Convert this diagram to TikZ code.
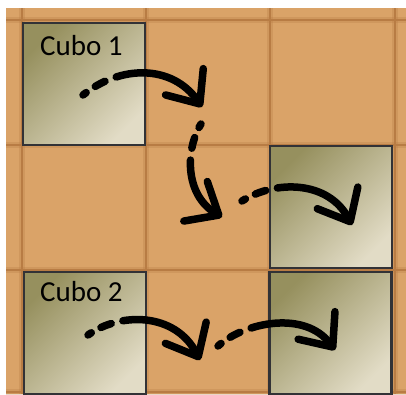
\documentclass[tikz,border=0pt]{standalone}
\usepackage{fontspec}
\setmainfont{Carlito}
\usetikzlibrary{arrows.meta}
\definecolor{tile}{RGB}{218,163,104}
\definecolor{seam}{RGB}{184,124,68}
\definecolor{cubedark}{RGB}{150,144,94}
\definecolor{cubemid}{RGB}{192,184,146}
\definecolor{cubelight}{RGB}{226,220,198}
\definecolor{rim}{RGB}{50,50,54}
\tikzset{
  cube/.style={draw=rim, line width=2.5pt, minimum size=122pt, inner sep=0pt,
    top color=cubedark, middle color=cubemid, bottom color=cubelight, shading angle=45},
  cubetext/.style={anchor=base west, inner sep=0pt, font=\fontsize{29}{32}\selectfont},
  move/.style={line width=7.5pt, line cap=round,
    dash pattern=on 4pt off 11pt on 11pt off 12pt on 600pt,
    -{Straight Barb[length=27pt,width=46pt,round]}}
}
\begin{document}
\begin{tikzpicture}[x=1pt, y=-1pt]
    \useasboundingbox (0,0) rectangle (406,394);
    % Floor and seams
    \fill[tile] (6,8) rectangle (406,394);
    \foreach \x in {22,146,270,395} {
      \draw[seam, line width=6pt, opacity=0.3] (\x,8) -- (\x,394);
      \draw[seam, line width=2pt] (\x,8) -- (\x,394);
    }
    \foreach \y in {20,145,270,392} {
      \draw[seam, line width=6pt, opacity=0.3] (6,\y) -- (406,\y);
      \draw[seam, line width=2pt] (6,\y) -- (406,\y);
    }

    % Cubes
    \node[cube] (q1) at (84,84) {};
    \node[cube] (q2) at (331,207) {};
    \node[cube] (q3) at (85,333) {};
    \node[cube] (q4) at (330.5,333) {};

    % Labels
    \node[cubetext] (t1) at (40,55) {Cubo 1};
    \node[cubetext] (t2) at (40,301) {Cubo 2};

    % Moves
    \coordinate (a1) at (83,95);
    \coordinate (a2) at (202,107);
    \coordinate (b1) at (201,124);
    \coordinate (b2) at (222,217);
    \coordinate (c1) at (242,201);
    \coordinate (c2) at (352,225);
    \coordinate (d1) at (88,335);
    \coordinate (d2) at (200,360);
    \coordinate (e1) at (218,346);
    \coordinate (e2) at (335,350);

    \draw[move] (a1) .. controls (120,65) and (172,64) .. (a2);
    \draw[move] (b1) .. controls (185,150) and (185,195) .. (b2);
    \draw[move] (c1) .. controls (275,180) and (328,180) .. (c2);
    \draw[move] (d1) .. controls (120,312) and (175,312) .. (d2);
    \draw[move] (e1) .. controls (245,322) and (305,310) .. (e2);
\end{tikzpicture}
\end{document}
